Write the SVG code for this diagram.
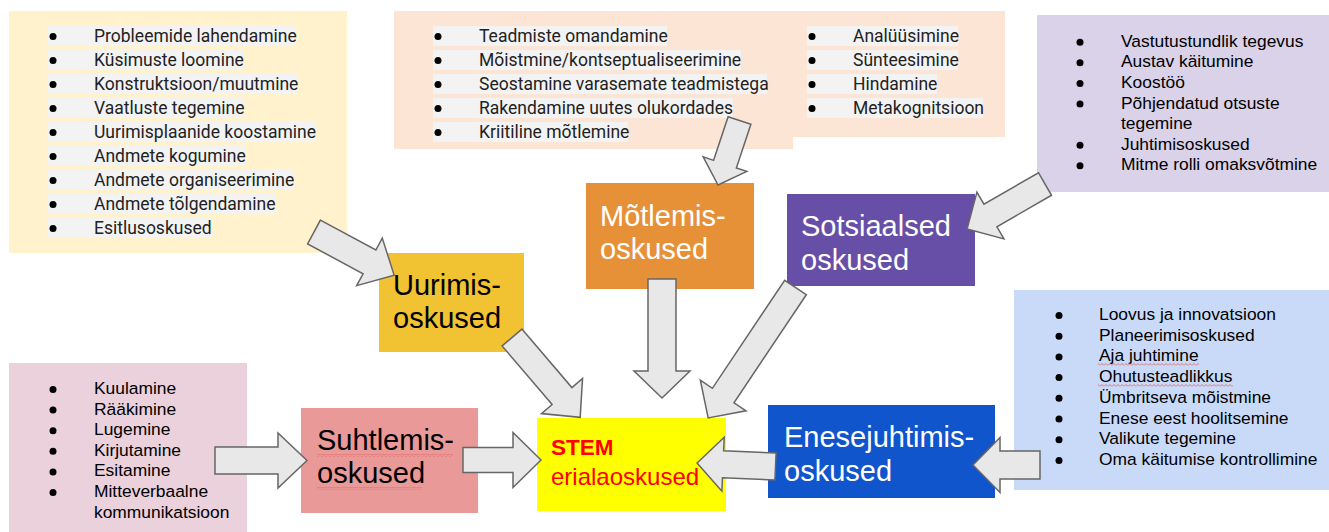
<svg xmlns="http://www.w3.org/2000/svg" width="1329" height="532" viewBox="0 0 1329 532">
<defs>
<style>
.r{font-family:Roboto,"Liberation Sans",sans-serif;font-size:17.5px;fill:#222}
.a{font-family:"Liberation Sans",Arial,sans-serif;font-size:17.4px;fill:#000}
.h{font-family:"Liberation Sans",Arial,sans-serif;font-size:29px}
.hl{fill:#f3f3f3}
.b{fill:#000}
.arr{fill:#e8e8e8;stroke:#666;stroke-width:1.5;stroke-linejoin:miter}
</style>
<pattern id="sq" width="4" height="3" patternUnits="userSpaceOnUse"><path d="M0,2.5 L2,0.5 L4,2.5" stroke="#e06666" fill="none" stroke-width="0.9"/></pattern>
</defs>
<rect width="1329" height="532" fill="#fff"/>

<g id="list-uurimis">
<rect x="9" y="11" width="338" height="242" fill="#fff2cc"/>
<rect class="hl" x="48" y="26" width="248" height="20"/>
<rect class="hl" x="48" y="50" width="195" height="20"/>
<rect class="hl" x="48" y="74" width="250" height="20"/>
<rect class="hl" x="48" y="98" width="195" height="20"/>
<rect class="hl" x="48" y="122" width="267" height="20"/>
<rect class="hl" x="48" y="146" width="197" height="20"/>
<rect class="hl" x="48" y="170" width="245" height="20"/>
<rect class="hl" x="48" y="194" width="227" height="20"/>
<rect class="hl" x="48" y="218" width="163" height="20"/>
<g class="b"><circle cx="53" cy="36.5" r="3.5"/><circle cx="53" cy="60.5" r="3.5"/><circle cx="53" cy="84.5" r="3.5"/><circle cx="53" cy="108.5" r="3.5"/><circle cx="53" cy="132.5" r="3.5"/><circle cx="53" cy="156.5" r="3.5"/><circle cx="53" cy="180.5" r="3.5"/><circle cx="53" cy="204.5" r="3.5"/><circle cx="53" cy="228.5" r="3.5"/></g>
<text class="r" x="94" y="41.5">Probleemide lahendamine</text>
<text class="r" x="94" y="65.5">Küsimuste loomine</text>
<text class="r" x="94" y="89.5">Konstruktsioon/muutmine</text>
<text class="r" x="94" y="113.5">Vaatluste tegemine</text>
<text class="r" x="94" y="137.5">Uurimisplaanide koostamine</text>
<text class="r" x="94" y="161.5">Andmete kogumine</text>
<text class="r" x="94" y="185.5">Andmete organiseerimine</text>
<text class="r" x="94" y="209.5">Andmete tõlgendamine</text>
<text class="r" x="94" y="233.5">Esitlusoskused</text>
</g>

<g id="list-motlemis">
<rect x="394" y="11" width="399" height="138" fill="#fce5d4"/>
<rect x="780" y="11" width="225" height="126" fill="#fce5d4"/>
<rect class="hl" x="433" y="26" width="234" height="20"/>
<rect class="hl" x="433" y="50" width="308" height="20"/>
<rect class="hl" x="433" y="74" width="334" height="20"/>
<rect class="hl" x="433" y="98" width="300" height="20"/>
<rect class="hl" x="433" y="122" width="195" height="20"/>
<rect class="hl" x="807" y="26" width="151" height="20"/>
<rect class="hl" x="807" y="50" width="151" height="20"/>
<rect class="hl" x="807" y="74" width="130" height="20"/>
<rect class="hl" x="807" y="98" width="176" height="20"/>
<g class="b"><circle cx="438" cy="36.5" r="3.5"/><circle cx="438" cy="60.5" r="3.5"/><circle cx="438" cy="84.5" r="3.5"/><circle cx="438" cy="108.5" r="3.5"/><circle cx="438" cy="132.5" r="3.5"/><circle cx="812" cy="36.5" r="3.5"/><circle cx="812" cy="60.5" r="3.5"/><circle cx="812" cy="84.5" r="3.5"/><circle cx="812" cy="108.5" r="3.5"/></g>
<text class="r" x="479" y="41.5">Teadmiste omandamine</text>
<text class="r" x="479" y="65.5">Mõistmine/kontseptualiseerimine</text>
<text class="r" x="479" y="89.5">Seostamine varasemate teadmistega</text>
<text class="r" x="479" y="113.5">Rakendamine uutes olukordades</text>
<text class="r" x="479" y="137.5">Kriitiline mõtlemine</text>
<text class="r" x="853" y="41.5">Analüüsimine</text>
<text class="r" x="853" y="65.5">Sünteesimine</text>
<text class="r" x="853" y="89.5">Hindamine</text>
<text class="r" x="853" y="113.5">Metakognitsioon</text>
</g>

<g id="list-sotsiaalsed">
<rect x="1037" y="15" width="292" height="177" fill="#d9d2e9"/>
<g class="b"><circle cx="1080" cy="42.2" r="3.5"/><circle cx="1080" cy="62.8" r="3.5"/><circle cx="1080" cy="83.4" r="3.5"/><circle cx="1080" cy="104" r="3.5"/><circle cx="1080" cy="145.2" r="3.5"/><circle cx="1080" cy="165.8" r="3.5"/></g>
<text class="a" x="1121" y="46.7">Vastutustundlik tegevus</text>
<text class="a" x="1121" y="67.3">Austav käitumine</text>
<text class="a" x="1121" y="87.9">Koostöö</text>
<text class="a" x="1121" y="108.5">Põhjendatud otsuste</text>
<text class="a" x="1121" y="129.1">tegemine</text>
<text class="a" x="1121" y="149.7">Juhtimisoskused</text>
<text class="a" x="1121" y="170.3">Mitme rolli omaksvõtmine</text>
</g>

<g id="list-suhtlemis">
<rect x="9" y="363" width="238" height="169" fill="#ead1dc"/>
<g class="b"><circle cx="53" cy="389.5" r="3.5"/><circle cx="53" cy="410.1" r="3.5"/><circle cx="53" cy="430.7" r="3.5"/><circle cx="53" cy="451.3" r="3.5"/><circle cx="53" cy="471.9" r="3.5"/><circle cx="53" cy="492.5" r="3.5"/></g>
<text class="a" x="94" y="394">Kuulamine</text>
<text class="a" x="94" y="414.6">Rääkimine</text>
<text class="a" x="94" y="435.2">Lugemine</text>
<text class="a" x="94" y="455.8">Kirjutamine</text>
<text class="a" x="94" y="476.4">Esitamine</text>
<text class="a" x="94" y="497">Mitteverbaalne</text>
<text class="a" x="94" y="517.6">kommunikatsioon</text>
</g>

<g id="list-enesejuhtimis">
<rect x="1014" y="290" width="315" height="200" fill="#c9daf8"/>
<g class="b"><circle cx="1059" cy="315.5" r="3.5"/><circle cx="1059" cy="336.2" r="3.5"/><circle cx="1059" cy="356.9" r="3.5"/><circle cx="1059" cy="377.6" r="3.5"/><circle cx="1059" cy="398.3" r="3.5"/><circle cx="1059" cy="419" r="3.5"/><circle cx="1059" cy="439.7" r="3.5"/><circle cx="1059" cy="460.4" r="3.5"/></g>
<text class="a" x="1099" y="320">Loovus ja innovatsioon</text>
<text class="a" x="1099" y="340.7">Planeerimisoskused</text>
<text class="a" x="1099" y="361.4">Aja juhtimine</text>
<text class="a" x="1099" y="382.1">Ohutusteadlikkus</text>
<text class="a" x="1099" y="402.8">Ümbritseva mõistmine</text>
<text class="a" x="1099" y="423.5">Enese eest hoolitsemine</text>
<text class="a" x="1099" y="444.2">Valikute tegemine</text>
<text class="a" x="1099" y="464.9">Oma käitumise kontrollimine</text>
<rect x="1098" y="363" width="101" height="3" fill="url(#sq)"/>
<rect x="1098" y="384" width="135" height="3" fill="url(#sq)"/>
</g>

<g id="uurimis">
<rect x="379" y="253" width="145" height="99" fill="#f1c232"/>
<text class="h" x="393" y="295" fill="#000">Uurimis-</text>
<text class="h" x="393" y="328" fill="#000">oskused</text>
</g>

<g id="motlemis">
<rect x="586" y="183" width="168" height="106" fill="#e69138"/>
<text class="h" x="600" y="226" fill="#fff">Mõtlemis-</text>
<text class="h" x="600" y="259" fill="#fff">oskused</text>
</g>

<g id="sotsiaalsed">
<rect x="787" y="194" width="188" height="92" fill="#674ea7"/>
<text class="h" x="801" y="236" fill="#fff">Sotsiaalsed</text>
<text class="h" x="801" y="270" fill="#fff">oskused</text>
</g>

<g id="suhtlemis">
<rect x="301" y="408" width="177" height="105" fill="#ea9999"/>
<text class="h" x="317" y="450" fill="#000">Suhtlemis-</text>
<text class="h" x="317" y="483" fill="#000">oskused</text>
<rect x="317" y="454" width="136" height="3" fill="url(#sq)"/>
<rect x="317" y="487" width="105" height="3" fill="url(#sq)"/>
</g>

<g id="stem">
<rect x="537" y="418" width="189" height="93" fill="#ffff00"/>
<text x="551" y="455" fill="#ff0000" font-family="Liberation Sans, Arial, sans-serif" font-size="22.5px" font-weight="bold">STEM</text>
<text x="551" y="485" fill="#ff0000" font-family="Liberation Sans, Arial, sans-serif" font-size="24px">erialaoskused</text>
</g>

<g id="enesejuhtimis">
<rect x="768" y="405" width="227" height="93" fill="#1155cc"/>
<text class="h" x="784" y="447" fill="#fff">Enesejuhtimis-</text>
<text class="h" x="784" y="481" fill="#fff">oskused</text>
</g>

<g id="connectors">
<polygon class="arr" transform="translate(314,232) rotate(28.3)" points="0,-13.5 63,-13.5 63,-27 91,0 63,27 63,13.5 0,13.5"/>
<polygon class="arr" transform="translate(512,337.5) rotate(49.5)" points="0,-13 77,-13 77,-27 105,0 77,27 77,13 0,13"/>
<polygon class="arr" transform="translate(662,279) rotate(90)" points="0,-14 92,-14 92,-28 119,0 92,28 92,14 0,14"/>
<polygon class="arr" transform="translate(795.5,287.5) rotate(123.8)" points="0,-13 130,-13 130,-27.5 157,0 130,27.5 130,13 0,13"/>
<polygon class="arr" transform="translate(739.5,120.5) rotate(108.4)" points="0,-12 46,-12 46,-23 68,0 46,23 46,12 0,12"/>
<polygon class="arr" transform="translate(1045,184) rotate(150)" points="0,-13 63,-13 63,-27 90,0 63,27 63,13 0,13"/>
<polygon class="arr" transform="translate(215,460.5)" points="0,-13.5 63,-13.5 63,-27.5 92,0 63,27.5 63,13.5 0,13.5"/>
<polygon class="arr" transform="translate(463,460)" points="0,-12.5 50,-12.5 50,-27.5 78,0 50,27.5 50,12.5 0,12.5"/>
<polygon class="arr" transform="translate(775.5,466.5) rotate(182.5)" points="0,-13.5 52.5,-13.5 52.5,-27 78.5,0 52.5,27 52.5,13.5 0,13.5"/>
<polygon class="arr" transform="translate(1040,465) rotate(180)" points="0,-14 40,-14 40,-27.5 67,0 40,27.5 40,14 0,14"/>
</g>
</svg>
